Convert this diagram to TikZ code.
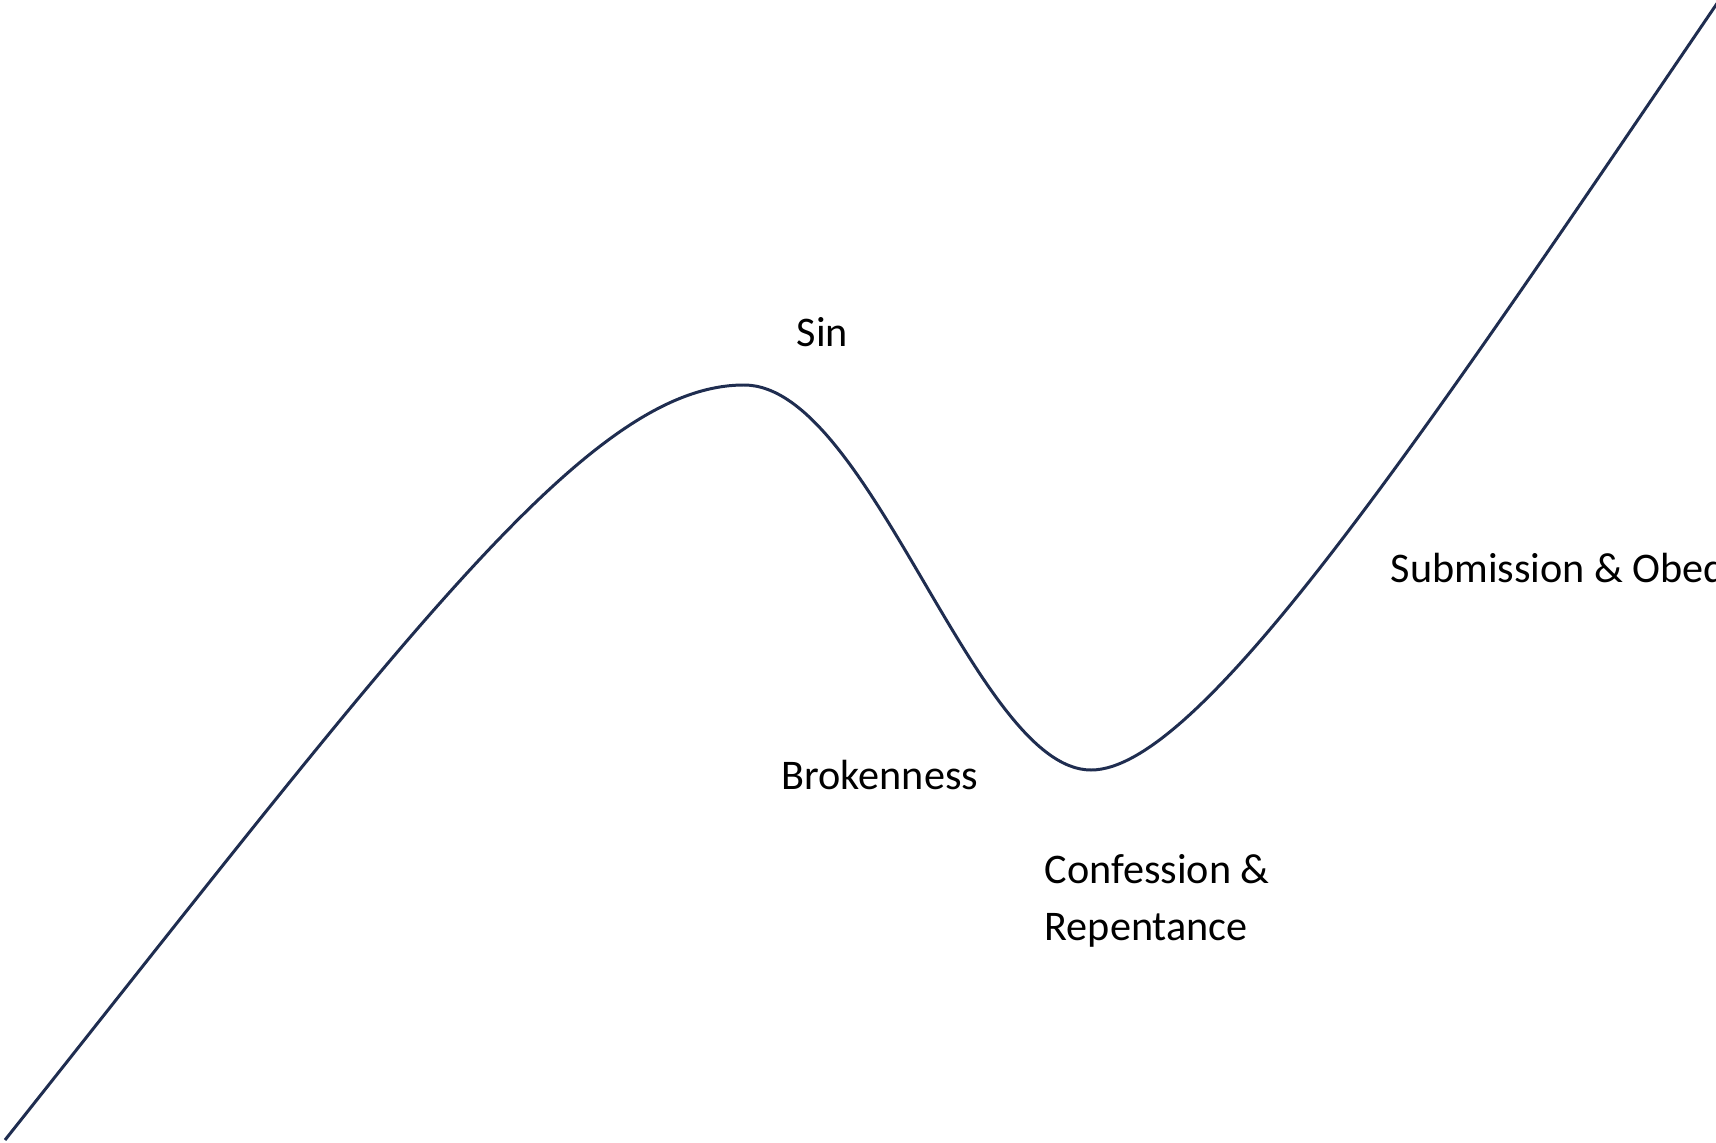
\documentclass[tikz,border=0pt]{standalone}
\usepackage{fontspec}
\setmainfont{Carlito}
\usepackage{tikz}
\usetikzlibrary{positioning}
\definecolor{curvenavy}{RGB}{31,45,80}

\begin{document}
\begin{tikzpicture}[
    x=0.01cm, y=-0.01cm,
    lbl/.style={font=\fontsize{12}{16.2}\selectfont, inner sep=0pt, anchor=west, align=left},
    pathline/.style={draw=curvenavy, line width=0.85pt}
]
\useasboundingbox (0,0) rectangle (1716,1143);
\clip (0,0) rectangle (1716,1143);

% turning points of the curve
\coordinate (start) at (5,1140);
\coordinate (peak) at (744,385);
\coordinate (trough) at (1091,770);
\coordinate (finish) at (1718,2);

\draw[pathline] (start) .. controls (410,630) and (590,385) .. (peak)
    .. controls (870,385) and (975,770) .. (trough)
    .. controls (1200,770) and (1420,440) .. (finish);

\node[lbl] (sin) at (796,332) {Sin};
\node[lbl] (broken) at (781,775) {Brokenness};
\node[lbl, anchor=north west] (confess) at (1044,854) {Confession \&\\Repentance};
\node[lbl] (submit) at (1390,568) {Submission \& Obedience};
\end{tikzpicture}
\end{document}
